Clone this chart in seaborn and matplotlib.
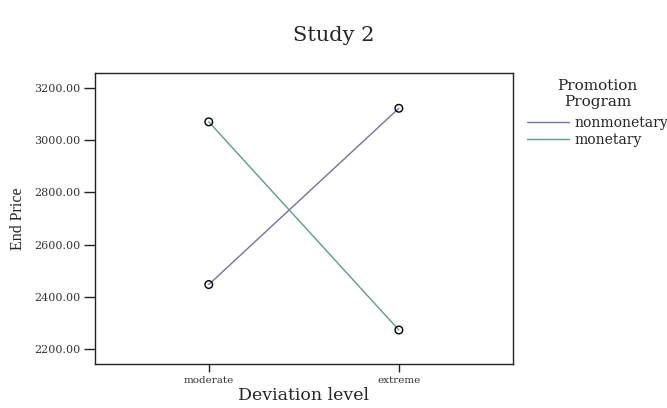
import matplotlib
matplotlib.use('Agg')
import matplotlib.pyplot as plt
from matplotlib.lines import Line2D
import seaborn as sns
import pandas as pd

# ── Data ─────────────────────────────────────────────────────────────────────
levels = ["moderate", "extreme"]
programs = ["nonmonetary", "monetary"]
nonmonetary_price = [2447, 3122]
monetary_price = [3070, 2273]
colors = {"nonmonetary": "#7173a3", "monetary": "#5c9e88"}

df = pd.DataFrame({
    "Deviation level": levels * 2,
    "Program": ["nonmonetary"] * 2 + ["monetary"] * 2,
    "End Price": nonmonetary_price + monetary_price,
})
df["x"] = df["Deviation level"].map({lv: i for i, lv in enumerate(levels)})

sns.set_style("ticks")
plt.rcParams['font.family'] = ['DejaVu Serif', 'Liberation Serif']

fig = plt.figure(figsize=(6.67, 4.08), dpi=100)
ax = fig.add_axes([0.142, 0.108, 0.627, 0.713])

sns.lineplot(data=df, x="x", y="End Price", hue="Program", hue_order=programs,
             palette=colors, linewidth=1.0, legend=False, ax=ax)
sns.scatterplot(data=df, x="x", y="End Price", marker="o", s=30,
                facecolor="none", edgecolor="black", linewidth=1.0,
                legend=False, ax=ax, zorder=3)

ax.set_xlim(-0.6, 1.6)
ax.set_ylim(2143, 3257)
ax.set_xticks([0, 1])
ax.set_xticklabels(levels, fontsize=7.5, color="#333333")
yt = [2200, 2400, 2600, 2800, 3000, 3200]
ax.set_yticks(yt)
ax.set_yticklabels([f"{v:.2f}" for v in yt], fontsize=8, color="#333333")
ax.tick_params(axis="y", length=8, width=1, color="#222222", pad=2)
ax.tick_params(axis="x", length=6, width=1, color="#222222", pad=3)
for s in ax.spines.values():
    s.set_visible(True)
    s.set_linewidth(1.0)
    s.set_color("#222222")

ax.set_xlabel("Deviation level", fontsize=12.5, labelpad=1)
ax.set_ylabel("End Price", fontsize=11.5, family=['Liberation Serif', 'DejaVu Serif'])
ax.yaxis.set_label_coords(-0.165, 0.5)
fig.text(0.5, 0.914, "Study 2", ha="center", va="center", fontsize=15)

handles = [Line2D([], [], color=colors[p], lw=1.0) for p in programs]
leg = ax.legend(handles, programs, title="Promotion\nProgram", loc="upper left",
                bbox_to_anchor=(1.02, 1.0), frameon=False, fontsize=10,
                title_fontsize=11, handlelength=3.0, handletextpad=0.4,
                labelspacing=0.2, borderaxespad=0)
leg.get_title().set_multialignment("center")
leg._legend_box.sep = 5

fig.savefig("out.png", dpi=100)
